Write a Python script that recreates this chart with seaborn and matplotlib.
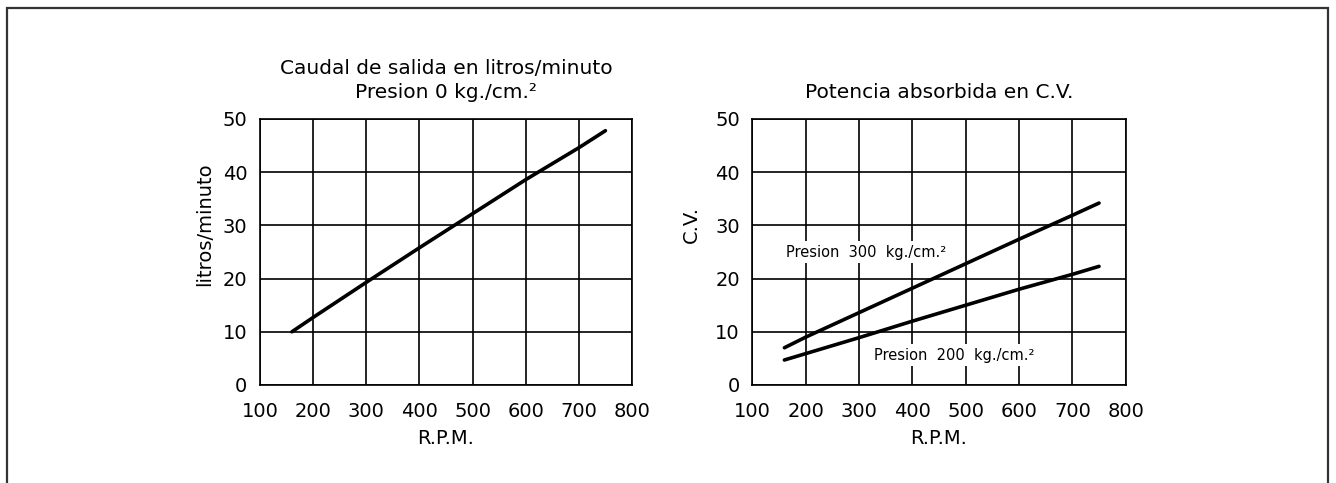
import matplotlib
matplotlib.use("Agg")
import matplotlib.pyplot as plt
import matplotlib.patches as mpatches
import seaborn as sns
import pandas as pd

# ---- data ----
rpm_caudal = [160, 200, 300, 400, 500, 600, 700, 750]
caudal = [10.0, 12.7, 19.3, 25.8, 32.2, 38.6, 44.6, 47.8]

rpm_potencia = [160, 200, 300, 400, 500, 600, 700, 750]
potencia_300 = [7.0, 9.0, 13.6, 18.2, 22.8, 27.4, 31.9, 34.2]
potencia_200 = [4.7, 5.9, 8.9, 12.0, 15.0, 18.0, 20.8, 22.3]

x_ticks = [100, 200, 300, 400, 500, 600, 700, 800]
y_ticks = [0, 10, 20, 30, 40, 50]

title_left = "Caudal de salida en litros/minuto\nPresion 0 kg./cm.²"
title_right = "Potencia absorbida en C.V."
xlabel = "R.P.M."
ylabel_left = "litros/minuto"
ylabel_right = "C.V."
label_300 = "Presion  300  kg./cm.²"
label_200 = "Presion  200  kg./cm.²"

sns.set_style("white")
plt.rcParams['font.family'] = ['DejaVu Sans']
plt.rcParams.update({"text.color": "black", "axes.labelcolor": "black",
                     "xtick.color": "black", "ytick.color": "black"})

W, H = 1336, 483
fig = plt.figure(figsize=(W / 100, H / 100), dpi=100)

def axes_px(x0, x1, y0, y1):
    return fig.add_axes([x0 / W, (H - y1) / H, (x1 - x0) / W, (y1 - y0) / H])

ax1 = axes_px(260, 632, 119, 385)
ax2 = axes_px(752.4, 1125.7, 119, 385)

df1 = pd.DataFrame({"rpm": rpm_caudal, "val": caudal})
df2 = pd.DataFrame({"rpm": rpm_potencia * 2,
                    "val": potencia_300 + potencia_200,
                    "serie": ["300"] * len(rpm_potencia) + ["200"] * len(rpm_potencia)})

sns.lineplot(data=df1, x="rpm", y="val", ax=ax1, color="black", linewidth=2.6, zorder=3)
sns.lineplot(data=df2, x="rpm", y="val", units="serie", estimator=None, ax=ax2,
             color="black", linewidth=2.6, zorder=3)

for ax in (ax1, ax2):
    ax.set_xlim(100, 800)
    ax.set_ylim(0, 50)
    ax.set_xticks(x_ticks)
    ax.set_yticks(y_ticks)
    ax.grid(True, color="black", linewidth=1.2)
    ax.set_axisbelow(True)
    for s in ax.spines.values():
        s.set_visible(True)
        s.set_color("black")
        s.set_linewidth(1.2)
    ax.tick_params(axis="both", length=0, labelsize=14, labelcolor="black")
    ax.tick_params(axis="x", pad=12)
    ax.tick_params(axis="y", pad=9)
    ax.set_xlabel(xlabel, fontsize=14, color="black")
    ax.xaxis.set_label_coords(0.5, -0.165)

ax1.set_ylabel(ylabel_left, fontsize=14, color="black")
ax1.yaxis.set_label_coords(-0.124, 0.605)
ax2.set_ylabel(ylabel_right, fontsize=14, color="black")
ax2.yaxis.set_label_coords(-0.138, 0.605)

ax1.set_title(title_left, fontsize=14.5, pad=15, linespacing=1.35, color="black")
ax2.set_title(title_right, fontsize=14.5, pad=15, color="black")

bbox = dict(facecolor="white", edgecolor="none", pad=2.5)
ax2.text(313, 25, label_300, fontsize=10.5, ha="center", va="center",
         bbox=bbox, zorder=2, color="black")
ax2.text(478, 5.6, label_200, fontsize=10.5, ha="center", va="center",
         bbox=bbox, zorder=2, color="black")

frame = mpatches.Rectangle((7 / W, -0.2), (1328 - 7) / W, (H - 8) / H + 0.2,
                           transform=fig.transFigure, fill=False,
                           edgecolor="#333333", linewidth=1.6)
fig.add_artist(frame)

fig.savefig("out.png", dpi=100)
